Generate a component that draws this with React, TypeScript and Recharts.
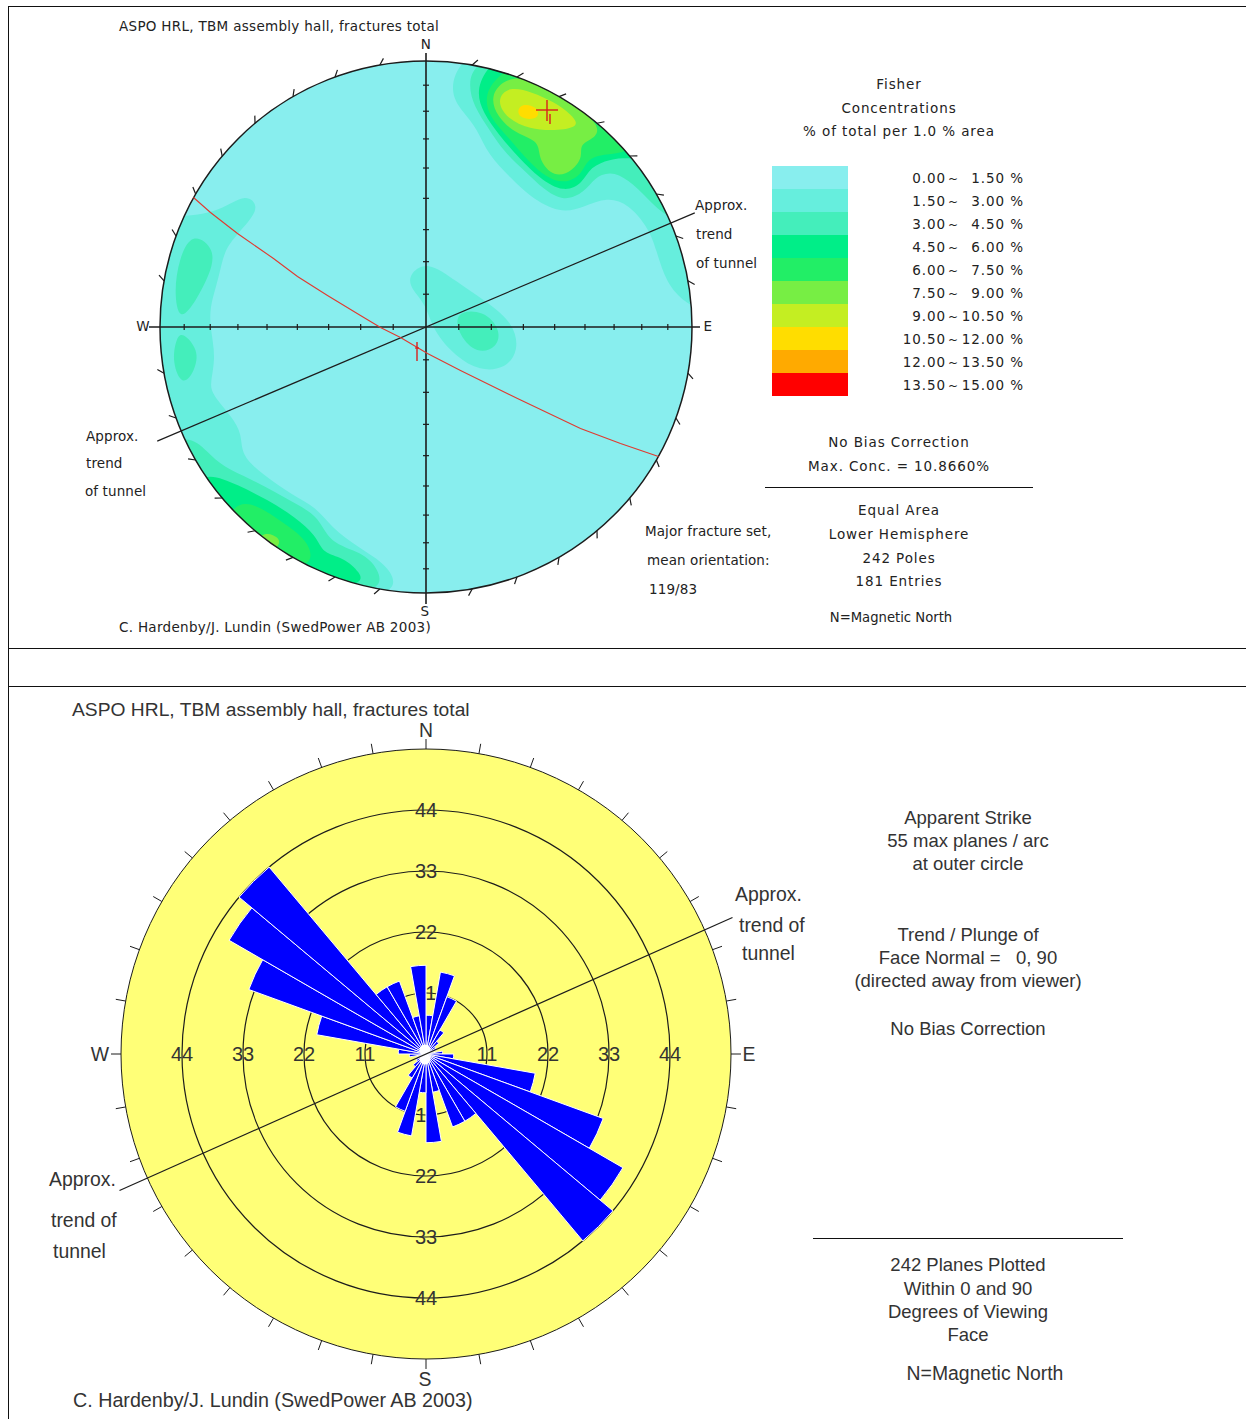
import React from 'react';
import {
  ScatterChart, Scatter, XAxis, YAxis, ReferenceDot,
  RadialBarChart, RadialBar, PolarAngleAxis, PolarRadiusAxis,
} from 'recharts';

type Pt = [number, number];

// Fisher legend
const LEVEL_COLORS = ['#88EEEE', '#66EEDD', '#44EEBB', '#00EE88', '#22EE66', '#77EE44', '#C4EE22', '#FFDD00', '#FFAA00', '#FF0000'];
const LEVEL_FROM = ['0.00', '1.50', '3.00', '4.50', '6.00', '7.50', '9.00', '10.50', '12.00', '13.50'];
const LEVEL_TO = ['1.50', '3.00', '4.50', '6.00', '7.50', '9.00', '10.50', '12.00', '13.50', '15.00'];

// Contour outlines, east / north on the net (net radius = 266). Parts past the rim get clipped.
const NE_1: Pt[] = [[34, 272], [23, 235], [36, 216], [51, 199], [62, 172], [86, 148], [103, 131], [134, 113], [158, 120], [181, 130], [203, 123], [223, 98], [230, 78], [240, 44], [259, 24], [280, 14], [310, 100], [200, 270], [100, 295]];
const NE_2: Pt[] = [[49, 265], [42, 243], [48, 220], [63, 198], [78, 175], [100, 155], [117, 138], [138, 125], [159, 135], [168, 149], [184, 156], [202, 148], [222, 128], [246, 104], [285, 110], [200, 265], [100, 285]];
const NE_3: Pt[] = [[61, 260], [50, 236], [57, 214], [73, 192], [93, 169], [113, 149], [138, 134], [157, 144], [164, 160], [184, 168], [201, 169], [215, 168], [245, 190], [150, 275], [90, 285]];
const NE_4: Pt[] = [[74, 254], [58, 233], [63, 210], [83, 189], [103, 165], [120, 150], [138, 143], [156, 152], [161, 169], [181, 173], [199, 174], [225, 190], [170, 245], [110, 275]];
const NE_5: Pt[] = [[78, 248], [64, 231], [71, 210], [90, 193], [114, 186], [112, 168], [128, 149], [147, 156], [157, 171], [153, 183], [172, 190], [172, 203], [152, 220], [128, 236], [101, 250]];
const NE_6: Pt[] = [[83, 241], [70, 227], [81, 208], [104, 198], [128, 196], [155, 200], [145, 213], [128, 225], [106, 235]];
const NE_7: Pt[] = [[92, 224], [91, 208], [114, 207], [112, 221]];

const WEST_1: Pt[] = [[-242, 110], [-205, 116], [-181, 134], [-166, 121], [-179, 103], [-200, 81], [-205, 60], [-210, 40], [-216, 20], [-216, 0], [-210, -30], [-216, -57], [-214, -67], [-194, -90], [-184, -107], [-185, -128], [-164, -147], [-134, -168], [-110, -180], [-95, -200], [-67, -221], [-43, -235], [-28, -255], [-42, -272], [-150, -265], [-265, -170], [-305, -60], [-305, 60], [-275, 110]];
const WEST_2A: Pt[] = [[-234, 96], [-210, 78], [-216, 53], [-230, 26], [-247, 4], [-252, 36], [-247, 68]];
const WEST_2B: Pt[] = [[-244, -4], [-227, -23], [-231, -44], [-244, -60], [-254, -35], [-250, -12]];
const SOUTH_2: Pt[] = [[-240, -105], [-218, -125], [-203, -140], [-175, -152], [-151, -165], [-128, -178], [-107, -190], [-97, -216], [-64, -225], [-47, -242], [-43, -265], [-100, -265], [-200, -235], [-275, -130]];
const SOUTH_3: Pt[] = [[-219, -145], [-188, -158], [-158, -173], [-131, -190], [-110, -208], [-103, -227], [-83, -230], [-65, -246], [-63, -258], [-120, -265], [-200, -225], [-235, -160]];
const SOUTH_4: Pt[] = [[-194, -176], [-171, -176], [-144, -195], [-119, -212], [-110, -238], [-150, -245], [-205, -212]];
const SOUTH_5: Pt[] = [[-166, -203], [-145, -210], [-147, -222], [-172, -228]];
const MID_1: Pt[] = [[-18, 52], [1, 67], [31, 45], [58, 27], [88, 4], [93, -24], [79, -42], [54, -44], [30, -30], [7, -4], [0, 23], [-15, 38]];
const MID_2: Pt[] = [[28, 16], [58, 17], [75, -3], [71, -21], [51, -27], [33, -9]];

const CONTOURS: { level: number; outline: Pt[] }[] = [
  { level: 1, outline: NE_1 }, { level: 1, outline: WEST_1 }, { level: 1, outline: MID_1 },
  { level: 2, outline: NE_2 }, { level: 2, outline: WEST_2A }, { level: 2, outline: WEST_2B }, { level: 2, outline: SOUTH_2 }, { level: 2, outline: MID_2 },
  { level: 3, outline: NE_3 }, { level: 3, outline: SOUTH_3 },
  { level: 4, outline: NE_4 }, { level: 4, outline: SOUTH_4 },
  { level: 5, outline: NE_5 }, { level: 5, outline: SOUTH_5 },
  { level: 6, outline: NE_6 },
  { level: 7, outline: NE_7 },
];

// Major fracture set great circle, same units
const GREAT_CIRCLE: Pt[] = [[-232.5, 129.5], [-215.5, 114.5], [-188.5, 93.5], [-152.5, 68.5], [-128.5, 50.5], [-98.5, 31.5], [-65.5, 11.5], [-45.5, -0.5], [-25.5, -10.5], [1.5, -26.5], [34.5, -43.5], [91.5, -71.5], [154.5, -101.5], [194.5, -116.5], [232.5, -129.5]];
const PEAK: Pt = [121, 217];
const POLE: Pt = [-9, -25];

const NET_RADIUS = 266;
const ROSE_RADIUS = 305;
const NET_TREND_AZIMUTH = 67;
const ROSE_TREND_AZIMUTH = 66;
const NET_DIPS = [10, 20, 30, 40, 50, 60, 70, 80];
const RIM_AZIMUTHS = [0, 10, 20, 30, 40, 50, 60, 70, 80, 90, 100, 110, 120, 130, 140, 150, 160, 170, 180, 190, 200, 210, 220, 230, 240, 250, 260, 270, 280, 290, 300, 310, 320, 330, 340, 350];

// Rose: planes per 10 degree arc, from north clockwise
const ROSE_SECTORS = RIM_AZIMUTHS.map((a) => `${a}-${a + 10}`);
const ROSE_COUNTS = [7, 15, 11, 5, 3, 2, 2, 1, 3, 5, 20, 34, 41, 44, 14, 14, 7, 16, 7, 15, 11, 5, 3, 2, 2, 1, 3, 5, 20, 34, 41, 44, 14, 14, 7, 16];
const ROSE_MAX = 55;
const ROSE_RINGS = [11, 22, 33, 44];

const roseData = ROSE_SECTORS.map((sector, i) => ({ sector, planes: ROSE_COUNTS[i] }));

const INK = '#1c1c1c';
const polar = (az: number, r: number) => {
  const t = (az * Math.PI) / 180;
  return { x: r * Math.sin(t), y: r * Math.cos(t) };
};
const toRows = (pts: Pt[]) => pts.map(([x, y]) => ({ x, y }));
const Nothing = () => null;

function Seg({ from, to, color = INK, width = 1.2 }: { from: { x: number; y: number }; to: { x: number; y: number }; color?: string; width?: number }) {
  return (
    <Scatter data={[from, to]} shape={Nothing} line={{ stroke: color, strokeWidth: width }} isAnimationActive={false} />
  );
}

function Stereonet() {
  const size = 640;
  const half = size / 2;
  const tick = 3;
  const equalArea = (dip: number) => NET_RADIUS * Math.SQRT2 * Math.sin((dip * Math.PI) / 360);
  return (
    <ScatterChart width={size} height={size} margin={{ top: 0, right: 0, bottom: 0, left: 0 }}>
      <defs>
        <clipPath id="net-clip"><circle cx={half} cy={half} r={NET_RADIUS} /></clipPath>
      </defs>
      <XAxis type="number" dataKey="x" domain={[-half, half]} hide />
      <YAxis type="number" dataKey="y" domain={[-half, half]} hide />
      <ReferenceDot x={0} y={0} r={NET_RADIUS} fill={LEVEL_COLORS[0]} stroke="none" />
      {CONTOURS.map((c, i) => (
        <Scatter
          key={i}
          data={toRows(c.outline)}
          shape={Nothing}
          line={{ fill: LEVEL_COLORS[c.level], stroke: 'none', clipPath: 'url(#net-clip)' }}
          lineJointType="basisClosed"
          isAnimationActive={false}
        />
      ))}
      <ReferenceDot x={0} y={0} r={NET_RADIUS} fill="none" stroke={INK} strokeWidth={1.5} />
      {RIM_AZIMUTHS.filter((a) => a % 90 !== 0).map((a) => (
        <Seg key={a} from={polar(a, NET_RADIUS)} to={polar(a + 1, NET_RADIUS + 6)} />
      ))}
      <Seg from={{ x: 0, y: 274 }} to={{ x: 0, y: -277 }} width={1.6} />
      <Seg from={{ x: -277, y: 0 }} to={{ x: 274, y: 0 }} width={1.6} />
      {NET_DIPS.map((d) => {
        const r = equalArea(d);
        return (
          <React.Fragment key={d}>
            <Seg from={{ x: r, y: -tick }} to={{ x: r, y: tick }} />
            <Seg from={{ x: -r, y: -tick }} to={{ x: -r, y: tick }} />
            <Seg from={{ x: -tick, y: r }} to={{ x: tick, y: r }} />
            <Seg from={{ x: -tick, y: -r }} to={{ x: tick, y: -r }} />
          </React.Fragment>
        );
      })}
      <Seg from={polar(NET_TREND_AZIMUTH, 292)} to={polar(NET_TREND_AZIMUTH + 180, 292)} />
      <Scatter data={toRows(GREAT_CIRCLE)} shape={Nothing} line={{ stroke: '#E03A30', strokeWidth: 1.1 }} isAnimationActive={false} />
      <Seg from={{ x: PEAK[0] - 11, y: PEAK[1] }} to={{ x: PEAK[0] + 11, y: PEAK[1] }} color="#D8201C" width={1.4} />
      <Seg from={{ x: PEAK[0], y: PEAK[1] + 10 }} to={{ x: PEAK[0], y: PEAK[1] - 11 }} color="#D8201C" width={1.4} />
      <Seg from={{ x: PEAK[0] + 3, y: PEAK[1] - 4 }} to={{ x: PEAK[0] + 3, y: PEAK[1] - 14 }} color="#D8201C" width={1.4} />
      <Seg from={{ x: POLE[0], y: POLE[1] + 10 }} to={{ x: POLE[0], y: POLE[1] - 9 }} color="#D8201C" width={1.4} />
      <Seg from={{ x: POLE[0] - 2, y: POLE[1] + 4 }} to={{ x: POLE[0] + 2, y: POLE[1] + 4 }} color="#D8201C" width={1.2} />
    </ScatterChart>
  );
}

// one chart unit = one plane
const ROSE_SIZE = 700;
const ROSE_DOMAIN = (ROSE_MAX * (ROSE_SIZE / 2)) / ROSE_RADIUS;
const perPlane = ROSE_RADIUS / ROSE_MAX;

const ringLabelRows = ROSE_RINGS.flatMap((v) => [0, 90, 180, 270].map((az) => ({ ...polar(az, v), label: String(v) })));

const RingLabel = (p: any) => (
  <text x={p.cx} y={p.cy} textAnchor="middle" dominantBaseline="central" fontFamily="Liberation Sans" fontSize={20} fill="#333">
    {p.payload.label}
  </text>
);

function RoseBase() {
  return (
    <ScatterChart width={ROSE_SIZE} height={ROSE_SIZE} margin={{ top: 0, right: 0, bottom: 0, left: 0 }}>
      <XAxis type="number" dataKey="x" domain={[-ROSE_DOMAIN, ROSE_DOMAIN]} hide />
      <YAxis type="number" dataKey="y" domain={[-ROSE_DOMAIN, ROSE_DOMAIN]} hide />
      <ReferenceDot x={0} y={0} r={ROSE_RADIUS} fill="#FFFF77" stroke={INK} strokeWidth={1} />
      {ROSE_RINGS.map((v) => (
        <ReferenceDot key={v} x={0} y={0} r={v * perPlane} fill="none" stroke={INK} strokeWidth={1.2} />
      ))}
      {RIM_AZIMUTHS.map((a) => (
        <Seg key={a} from={polar(a, ROSE_MAX)} to={polar(a, ROSE_MAX + 1.8)} width={1} />
      ))}
      <Scatter data={ringLabelRows} shape={RingLabel} isAnimationActive={false} />
    </ScatterChart>
  );
}

function RoseBars() {
  return (
    <RadialBarChart
      width={ROSE_SIZE}
      height={ROSE_SIZE}
      data={roseData}
      layout="centric"
      cx={ROSE_SIZE / 2}
      cy={ROSE_SIZE / 2}
      innerRadius={0}
      outerRadius={ROSE_RADIUS}
      startAngle={80}
      endAngle={-280}
      barCategoryGap={0}
      margin={{ top: 0, right: 0, bottom: 0, left: 0 }}
    >
      <PolarAngleAxis type="category" dataKey="sector" tick={false} axisLine={false} />
      <PolarRadiusAxis type="number" domain={[0, ROSE_MAX]} tick={false} axisLine={false} />
      <RadialBar dataKey="planes" fill="#0000FF" stroke="#FFFFFF" strokeWidth={1} isAnimationActive={false} />
    </RadialBarChart>
  );
}

function RoseTrend() {
  return (
    <ScatterChart width={ROSE_SIZE} height={ROSE_SIZE} margin={{ top: 0, right: 0, bottom: 0, left: 0 }}>
      <XAxis type="number" dataKey="x" domain={[-ROSE_DOMAIN, ROSE_DOMAIN]} hide />
      <YAxis type="number" dataKey="y" domain={[-ROSE_DOMAIN, ROSE_DOMAIN]} hide />
      <ReferenceDot x={-0.2} y={0.7} r={5.5} fill="#FFFFFF" stroke="none" />
      <ReferenceDot x={-0.2} y={-0.9} r={5.5} fill="#FFFFFF" stroke="none" />
      <Seg from={polar(ROSE_TREND_AZIMUTH, 60.5)} to={polar(ROSE_TREND_AZIMUTH + 180, 60.5)} />
    </ScatterChart>
  );
}

const NET_FONT = { fontFamily: '"DejaVu Sans"', fontSize: 13.5, letterSpacing: 0.3, color: '#222', marginTop: 1 };
const LABEL_FONT = { ...NET_FONT, letterSpacing: 0.1 };
const KEY_FONT = { ...NET_FONT, letterSpacing: 0.9 };
const LOW_FONT = { fontFamily: '"Liberation Sans"', fontSize: 19.4, color: '#333' };
const NOTE_FONT = { fontFamily: '"Liberation Sans"', fontSize: 18.5, color: '#333' };

function T({ x, y, c, f, children }: { x: number; y: number; c?: boolean; f: React.CSSProperties; children: React.ReactNode }) {
  return (
    <div style={{ position: 'absolute', left: x, top: y, transform: `translate(${c ? '-50%' : '0'}, -50%)`, whiteSpace: 'pre', lineHeight: 1, ...f }}>
      {children}
    </div>
  );
}

const Rule = ({ x, y, w, h }: { x: number; y: number; w: number; h: number }) => (
  <div style={{ position: 'absolute', left: x, top: y, width: w, height: h, background: '#111' }} />
);

const Layer = ({ x, y, children }: { x: number; y: number; children: React.ReactNode }) => (
  <div style={{ position: 'absolute', left: x, top: y }}>{children}</div>
);

export default function App() {
  const legendTop = 166;
  const legendStep = 23;
  return (
    <div style={{ position: 'absolute', left: 0, top: 0, width: 1246, height: 1419, background: '#fff', overflow: 'hidden' }}>
      <Rule x={8} y={6} w={1238} h={1} />
      <Rule x={8} y={648} w={1238} h={1} />
      <Rule x={8} y={686} w={1238} h={1} />
      <Rule x={8} y={6} w={1} h={1413} />

      <Layer x={106} y={7}><Stereonet /></Layer>

      <T x={119} y={26} f={NET_FONT}>ASPO HRL, TBM assembly hall, fractures total</T>
      <T x={426} y={44} c f={NET_FONT}>N</T>
      <T x={143} y={326} c f={NET_FONT}>W</T>
      <T x={708} y={326} c f={NET_FONT}>E</T>
      <T x={425} y={611} c f={NET_FONT}>S</T>
      <T x={119} y={627} f={NET_FONT}>C. Hardenby/J. Lundin (SwedPower AB 2003)</T>
      <T x={695} y={205} f={LABEL_FONT}>Approx.</T>
      <T x={696} y={234} f={LABEL_FONT}>trend</T>
      <T x={696} y={263} f={LABEL_FONT}>of tunnel</T>
      <T x={86} y={436} f={LABEL_FONT}>Approx.</T>
      <T x={86} y={463} f={LABEL_FONT}>trend</T>
      <T x={85} y={491} f={LABEL_FONT}>of tunnel</T>
      <T x={645} y={531} f={LABEL_FONT}>Major fracture set,</T>
      <T x={647} y={560} f={LABEL_FONT}>mean orientation:</T>
      <T x={649} y={589} f={LABEL_FONT}>119/83</T>
      <T x={899} y={84} c f={KEY_FONT}>Fisher</T>
      <T x={899} y={108} c f={KEY_FONT}>Concentrations</T>
      <T x={899} y={131} c f={KEY_FONT}>% of total per 1.0 % area</T>

      {LEVEL_COLORS.map((color, i) => (
        <div key={color} style={{ position: 'absolute', left: 772, top: legendTop + i * legendStep, width: 76, height: legendStep, background: color }} />
      ))}
      {LEVEL_FROM.map((from, i) => {
        const y = 178 + i * legendStep;
        return (
          <React.Fragment key={from}>
            <div style={{ position: 'absolute', right: 1246 - 946, top: y, transform: 'translateY(-50%)', lineHeight: 1, ...KEY_FONT }}>{from}</div>
            <T x={953.5} y={y} c f={{ ...KEY_FONT, fontSize: 12 }}>~</T>
            <div style={{ position: 'absolute', right: 1246 - 1005, top: y, transform: 'translateY(-50%)', lineHeight: 1, ...KEY_FONT }}>{LEVEL_TO[i]}</div>
            <T x={1017} y={y} c f={KEY_FONT}>%</T>
          </React.Fragment>
        );
      })}

      <T x={899} y={442} c f={KEY_FONT}>No Bias Correction</T>
      <T x={899} y={466} c f={KEY_FONT}>Max. Conc. = 10.8660%</T>
      <Rule x={765} y={487} w={268} h={1} />
      <T x={899} y={510} c f={KEY_FONT}>Equal Area</T>
      <T x={899} y={534} c f={KEY_FONT}>Lower Hemisphere</T>
      <T x={899} y={558} c f={KEY_FONT}>242 Poles</T>
      <T x={899} y={581} c f={KEY_FONT}>181 Entries</T>
      <T x={891} y={617} c f={{ ...LABEL_FONT, fontSize: 13.2, letterSpacing: 0 }}>N=Magnetic North</T>

      <Layer x={76} y={704}><RoseBase /></Layer>
      <Layer x={76} y={704}><RoseBars /></Layer>
      <Layer x={76} y={704}><RoseTrend /></Layer>

      <T x={72} y={710} f={{ ...LOW_FONT, fontSize: 19.25 }}>ASPO HRL, TBM assembly hall, fractures total</T>
      <T x={426} y={731} c f={LOW_FONT}>N</T>
      <T x={100} y={1055} c f={LOW_FONT}>W</T>
      <T x={749} y={1055} c f={LOW_FONT}>E</T>
      <T x={425} y={1380} c f={LOW_FONT}>S</T>
      <T x={73} y={1401} f={{ ...LOW_FONT, fontSize: 19.7 }}>C. Hardenby/J. Lundin (SwedPower AB 2003)</T>
      <T x={735} y={895} f={LOW_FONT}>Approx.</T>
      <T x={739} y={926} f={LOW_FONT}>trend of</T>
      <T x={742} y={954} f={LOW_FONT}>tunnel</T>
      <T x={49} y={1180} f={LOW_FONT}>Approx.</T>
      <T x={51} y={1221} f={LOW_FONT}>trend of</T>
      <T x={53} y={1252} f={LOW_FONT}>tunnel</T>
      <T x={968} y={818} c f={NOTE_FONT}>Apparent Strike</T>
      <T x={968} y={841} c f={NOTE_FONT}>55 max planes / arc</T>
      <T x={968} y={864} c f={NOTE_FONT}>at outer circle</T>
      <T x={968} y={935} c f={NOTE_FONT}>Trend / Plunge of</T>
      <T x={968} y={958} c f={NOTE_FONT}>Face Normal =   0, 90</T>
      <T x={968} y={981} c f={NOTE_FONT}>(directed away from viewer)</T>
      <T x={968} y={1029} c f={NOTE_FONT}>No Bias Correction</T>
      <Rule x={813} y={1238} w={310} h={1} />
      <T x={968} y={1265} c f={NOTE_FONT}>242 Planes Plotted</T>
      <T x={968} y={1289} c f={NOTE_FONT}>Within 0 and 90</T>
      <T x={968} y={1312} c f={NOTE_FONT}>Degrees of Viewing</T>
      <T x={968} y={1335} c f={NOTE_FONT}>Face</T>
      <T x={985} y={1374} c f={LOW_FONT}>N=Magnetic North</T>
    </div>
  );
}
